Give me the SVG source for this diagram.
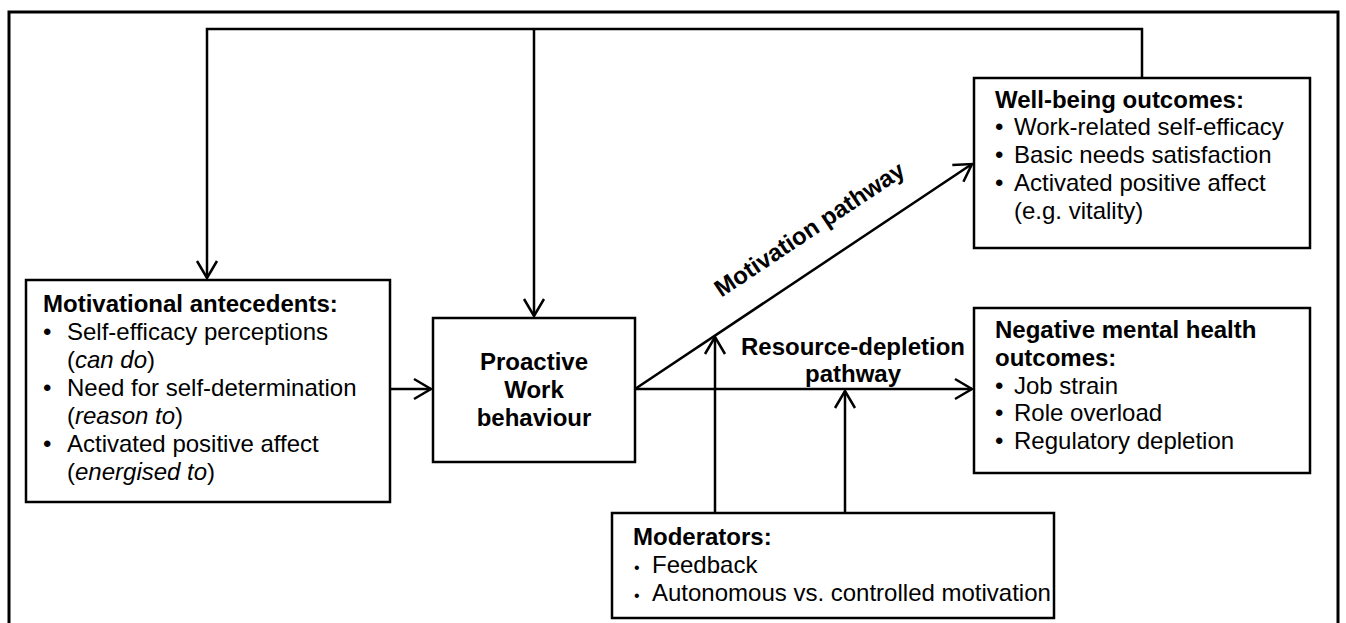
<svg xmlns="http://www.w3.org/2000/svg" width="1346" height="623" viewBox="0 0 1346 623">
<defs>
<style>
text{font-family:"Liberation Sans",Arial,sans-serif;font-size:24px;fill:#000}
.b{font-weight:bold}
.i{font-style:italic}
.box{fill:#fff;stroke:#000;stroke-width:2.5}
.ln{fill:none;stroke:#000;stroke-width:2.5}
.sb{font-size:16px}
</style>
<marker id="ah" viewBox="-20 -12 22 24" refX="0" refY="0" markerWidth="22" markerHeight="24" markerUnits="userSpaceOnUse" orient="auto">
<path d="M-17,-10 L0,0 L-17,10" fill="none" stroke="#000" stroke-width="2.5"/>
</marker>
</defs>
<rect x="9" y="12" width="1329" height="620" fill="#fff" stroke="#000" stroke-width="3"/>
<g id="connectors">
<path class="ln" d="M1142,78 V29 H207 V278" marker-end="url(#ah)"/>
<path class="ln" d="M534,29 V316" marker-end="url(#ah)"/>
<path class="ln" d="M390,389 H431" marker-end="url(#ah)"/>
<path class="ln" d="M635,389 H972" marker-end="url(#ah)"/>
<path class="ln" d="M635,389 L972,164" marker-end="url(#ah)"/>
<path class="ln" d="M715,513 V337" marker-end="url(#ah)"/>
<path class="ln" d="M845,513 V391" marker-end="url(#ah)"/>
<text class="b" transform="translate(814,236) rotate(-33.7)" text-anchor="middle">Motivation pathway</text>
<text class="b" x="853" y="355" text-anchor="middle">Resource-depletion</text>
<text class="b" x="853" y="382" text-anchor="middle">pathway</text>
</g>
<g id="antecedents">
<rect class="box" x="26" y="280" width="364" height="222"/>
<text class="b" x="43" y="312">Motivational antecedents:</text>
<text x="43" y="340">•</text><text x="67" y="340">Self-efficacy perceptions</text>
<text x="67" y="368">(<tspan class="i">can do</tspan>)</text>
<text x="43" y="396">•</text><text x="67" y="396">Need for self-determination</text>
<text x="67" y="424">(<tspan class="i">reason to</tspan>)</text>
<text x="43" y="452">•</text><text x="67" y="452">Activated positive affect</text>
<text x="67" y="480">(<tspan class="i">energised to</tspan>)</text>
</g>
<g id="proactive">
<rect class="box" x="433" y="318" width="202" height="144"/>
<text class="b" x="534" y="370" text-anchor="middle">Proactive</text>
<text class="b" x="534" y="398" text-anchor="middle">Work</text>
<text class="b" x="534" y="426" text-anchor="middle">behaviour</text>
</g>
<g id="wellbeing">
<rect class="box" x="974" y="78" width="336" height="170"/>
<text class="b" x="995" y="108">Well-being outcomes:</text>
<text x="995" y="135">•</text><text x="1014" y="135">Work-related self-efficacy</text>
<text x="995" y="163">•</text><text x="1014" y="163">Basic needs satisfaction</text>
<text x="995" y="191">•</text><text x="1014" y="191">Activated positive affect</text>
<text x="1014" y="219">(e.g. vitality)</text>
</g>
<g id="negative">
<rect class="box" x="974" y="308" width="336" height="165"/>
<text class="b" x="995" y="338">Negative mental health</text>
<text class="b" x="995" y="366">outcomes:</text>
<text x="995" y="394">•</text><text x="1014" y="394">Job strain</text>
<text x="995" y="421">•</text><text x="1014" y="421">Role overload</text>
<text x="995" y="449">•</text><text x="1014" y="449">Regulatory depletion</text>
</g>
<g id="moderators">
<rect class="box" x="612" y="513" width="442" height="105"/>
<text class="b" x="633" y="545">Moderators:</text>
<text class="sb" x="634" y="573">•</text><text x="652" y="573">Feedback</text>
<text class="sb" x="634" y="601">•</text><text x="652" y="601">Autonomous vs. controlled motivation</text>
</g>
</svg>
